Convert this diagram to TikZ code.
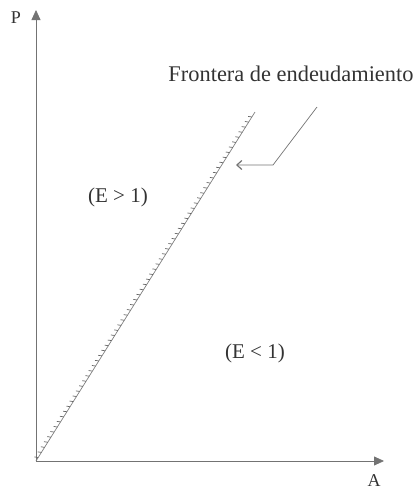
\documentclass[tikz,border=0pt]{standalone}
\usepackage{fontspec}
\setmainfont{Liberation Serif}
\usetikzlibrary{arrows.meta,positioning,decorations.markings}
\tikzset{axis/.style={draw=black!55,line width=0.8pt,-{Triangle[length=10pt,width=9pt]},shorten >=-2pt},
 lbl/.style={inner sep=1pt,font=\fontsize{21}{24}\selectfont,text=black!80},
 frontier/.style={draw=black!50,line width=0.7pt,
   postaction={decorate,decoration={markings,
     mark=between positions 0.01 and 0.995 step 6pt with {\draw[black!60,line width=0.7pt] (0,0) -- (-1.5pt,3.5pt);}}}},
 leader/.style={draw=black!55,line width=0.7pt,-{Straight Barb[length=5pt,width=9pt,line width=1.2pt]}}}
\begin{document}
\begin{tikzpicture}[x=1pt,y=-1pt]
\useasboundingbox (0,0) rectangle (417,491);

\coordinate (origin) at (36,461);
\coordinate (ytop) at (36,12);
\coordinate (xend) at (382,461);
\coordinate (ftop) at (255,112);
\coordinate (bend) at (273,165);
\coordinate (lstart) at (317,107);
\coordinate (ltip) at (236,165);

\draw[axis] (origin) -- (ytop);
\draw[axis] (origin) -- (xend);
\node[lbl,font=\fontsize{18}{20}\selectfont] (plabel) at (16,18) {P};
\node[lbl,font=\fontsize{18}{20}\selectfont] (alabel) at (374,481) {A};

\draw[frontier] (origin) -- (ftop);

\node[lbl,font=\fontsize{22.4}{25}\selectfont] (ftext) at (291,74) {Frontera de endeudamiento};
\draw[leader] (lstart) -- (bend) -- (ltip);

\node[lbl] (emayor) at (118,197) {(E > 1)};
\node[lbl] (emenor) at (255,353) {(E < 1)};
\end{tikzpicture}
\end{document}
